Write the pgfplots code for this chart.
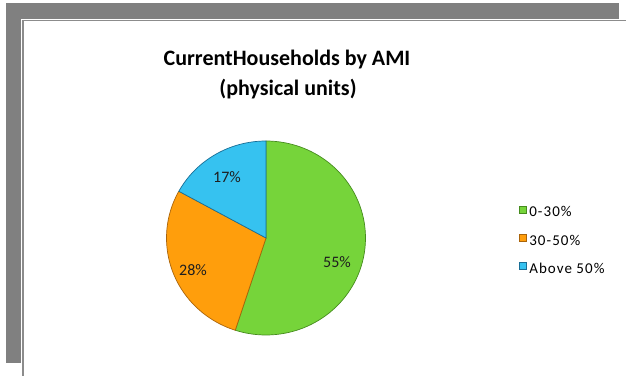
\documentclass[border=0pt]{standalone}
\usepackage{pgfplots}
\pgfplotsset{compat=1.18}
\usepackage{fontspec}
\setmainfont{Carlito}
\newfontfamily\legfont[LetterSpace=7]{Carlito}
\definecolor{framegray}{RGB}{128,128,128}
\definecolor{linegray}{RGB}{140,140,140}
\definecolor{pgreen}{RGB}{118,212,58}
\definecolor{pgreenD}{RGB}{70,140,30}
\definecolor{porange}{RGB}{255,158,12}
\definecolor{porangeD}{RGB}{170,100,10}
\definecolor{pblue}{RGB}{54,194,240}
\definecolor{pblueD}{RGB}{25,110,150}
\definecolor{labelc}{RGB}{30,30,30}
\begin{document}
\begin{tikzpicture}
\useasboundingbox (0,0) rectangle (626bp,376bp);
\fill[white] (0,0) rectangle (626bp,376bp);
\fill[framegray] (6bp,373bp) rectangle (619bp,357.3bp);
\fill[framegray] (6bp,373bp) rectangle (21.3bp,13bp);
\draw[line width=1.3bp, linegray] (626bp,355.5bp) -- (23bp,355.5bp) -- (23bp,0bp);
\node[font=\bfseries\fontsize{22bp}{26bp}\selectfont, anchor=base] at (287bp,310bp) {CurrentHouseholds by AMI};
\node[font=\bfseries\fontsize{22bp}{26bp}\selectfont, anchor=base] at (288bp,280bp) {(physical units)};
% data: 0-30% = 55, 30-50% = 28, Above 50% = 17
\pgfmathsetmacro{\aA}{90}
\pgfmathsetmacro{\aB}{\aA-3.6*55}
\pgfmathsetmacro{\aC}{\aB-3.6*28}
\pgfmathsetmacro{\aD}{\aC-3.6*17}
\begin{axis}[
  at={(266bp,138bp)}, anchor=center,
  width=199bp, height=194bp, scale only axis,
  xmin=-1, xmax=1, ymin=-1, ymax=1,
  hide axis, clip=false,
  legend cell align=left,
  legend image code/.code={\filldraw[#1, line width=0.4bp] (0bp,0.5bp) rectangle (7bp,7.5bp);},
  legend style={at={(axis description cs:1.771,0.485)}, anchor=west,
    draw=none, fill=none, inner sep=0pt, outer sep=0pt,
    font=\legfont\fontsize{15bp}{17bp}\selectfont,
    row sep=14bp,
    nodes={inner sep=0pt, text height=10bp, text depth=3bp},
    /tikz/every odd column/.append style={column sep=3bp}},
]
\addplot[fill=pgreen, draw=pgreenD, line width=0.7bp, domain=\aB:\aA, samples=90, variable=\t] ({cos(\t)},{sin(\t)}) -- (axis cs:0,0) -- cycle;
\addlegendentry{0-30\%}
\addplot[fill=porange, draw=porangeD, line width=0.7bp, domain=\aC:\aB, samples=60, variable=\t] ({cos(\t)},{sin(\t)}) -- (axis cs:0,0) -- cycle;
\addlegendentry{30-50\%}
\addplot[fill=pblue, draw=pblueD, line width=0.7bp, domain=\aD:\aC, samples=40, variable=\t] ({cos(\t)},{sin(\t)}) -- (axis cs:0,0) -- cycle;
\addlegendentry{Above 50\%}
\node[font=\fontsize{16bp}{18bp}\selectfont, text=labelc] at (axis cs:0.714,-0.247) {55\%};
\node[font=\fontsize{16bp}{18bp}\selectfont, text=labelc] at (axis cs:-0.734,-0.33) {28\%};
\node[font=\fontsize{16bp}{18bp}\selectfont, text=labelc] at (axis cs:-0.392,0.629) {17\%};
\end{axis}
\end{tikzpicture}
\end{document}
